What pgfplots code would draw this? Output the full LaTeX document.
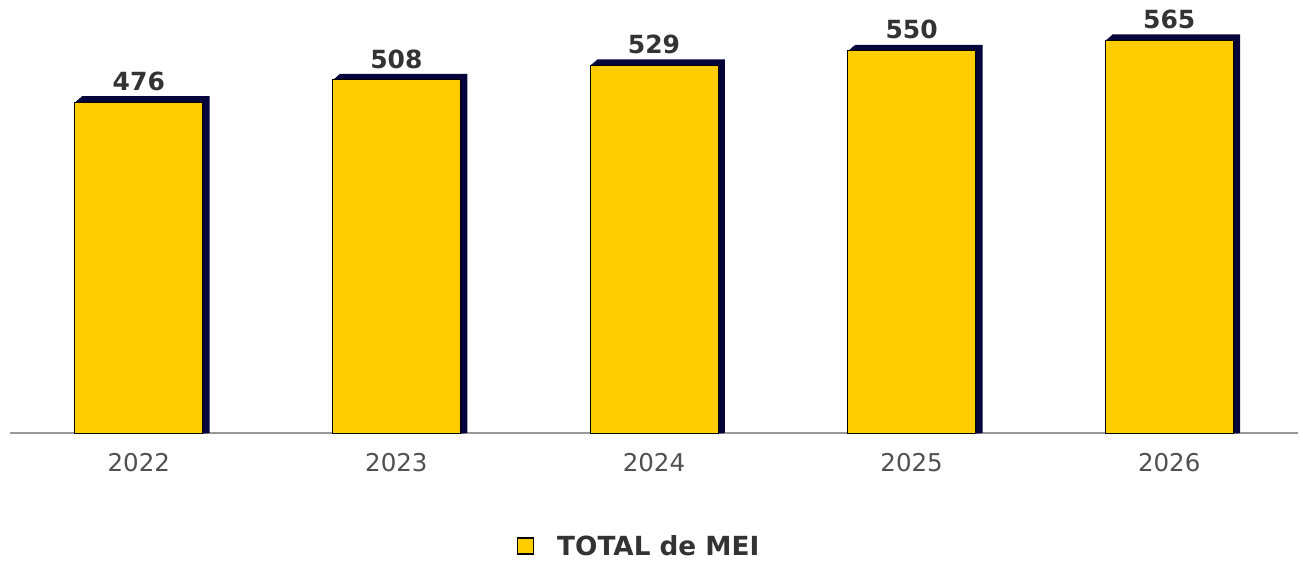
\documentclass[border=0pt]{standalone}
\usepackage{fontspec}
\setmainfont{DejaVu Sans}
\usepackage{pgfplots}
\pgfplotsset{compat=1.18}
\usepackage{pgfplotstable}
\definecolor{baryellow}{HTML}{FFCC00}
\definecolor{shadowc}{RGB}{5,5,60}
\definecolor{axisgray}{HTML}{999999}
\definecolor{ticktext}{HTML}{505050}
\definecolor{valtext}{HTML}{333333}
\pgfplotstableread{
x v
0 476
1 508
2 529
3 550
4 565
}\data
\begin{document}
\begin{tikzpicture}[x=1pt,y=1pt]
\useasboundingbox (0,0) rectangle (1303,560);
\begin{axis}[
  at={(10pt,127pt)}, anchor=south west,
  scale only axis, width=1288pt, height=417pt,
  xmin=-0.5, xmax=4.5, ymin=0, ymax=600,
  clip=false,
  axis x line*=bottom, hide y axis,
  x axis line style={axisgray, line width=1.8pt, -},
  major tick length=0pt,
  xtick={0,1,2,3,4},
  xticklabels={2022,2023,2024,2025,2026},
  xticklabel style={font=\fontsize{24.5}{24.5}\selectfont, text=ticktext, inner sep=0pt, yshift=-20pt},
  /pgf/number format/assume math mode=true,
  legend style={at={(0.4876,-0.2710)}, anchor=center, draw=none, fill=none,
    font=\bfseries\fontsize{26.3}{26.3}\selectfont, text=valtext, inner sep=0pt,
    nodes={inner sep=0pt}},
  legend image code/.code={\path[draw=none,fill=none] (0pt,-8pt) rectangle (40pt,8pt);
    \draw[fill=baryellow, draw=black, line width=1.2pt] (0pt,-8pt) rectangle (16pt,8pt);},
]
\pgfplotsinvokeforeach{1,2,3,4,5,6}{
  \addplot[ybar, bar width=128pt, bar shift=#1*1.15pt, fill=shadowc, draw=none, forget plot]
    table[x=x, y expr=\thisrow{v}+#1/0.6954] {\data};
}
\addplot[ybar, bar width=128pt, bar shift=0pt, fill=baryellow, draw=black, line width=1pt,
  nodes near coords,
  nodes near coords style={anchor=south, inner sep=0pt, yshift=11pt,
    font=\bfseries\fontsize{25}{25}\selectfont, text=valtext}]
  table[x=x, y=v] {\data};
\addlegendentry{TOTAL de MEI}
\end{axis}
\end{tikzpicture}
\end{document}
